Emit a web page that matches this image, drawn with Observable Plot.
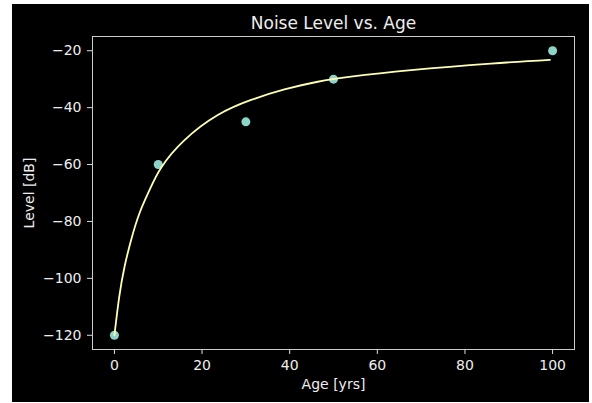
<!DOCTYPE html>
<html>
<head>
<meta charset="utf-8">
<script src="https://cdn.jsdelivr.net/npm/d3@7"></script>
<script src="https://cdn.jsdelivr.net/npm/@observablehq/plot@0.6"></script>
<style>
  html, body { margin: 0; padding: 0; background: #ffffff; }
  #wrap { position: absolute; left: 12px; top: 4px; width: 577px; height: 398px; background: #000; }
  #wrap svg { position: absolute; left: 0; top: 0; }
</style>
</head>
<body>
<div id="wrap"></div>
<script>
// Measured data points
const ages = [0, 10, 30, 50, 100];
const levels = [-120, -60, -45, -30, -20];

// Fitted curve
const fitAges = [0, 1.1, 2.3, 3.8, 5.7, 8, 10.7, 16, 23.6, 31.2, 38.8, 46.4, 54, 67.7, 85.9, 99.4];
const fitLevels = [-120, -106.5, -96, -86.6, -77.2, -69, -61, -51.4, -42.6, -37.3, -33.6, -30.9, -29.1, -26.8, -24.5, -23.2];

const xTicks = [0, 20, 40, 60, 80, 100];
const yTicks = [-120, -100, -80, -60, -40, -20];

const titleText = "Noise Level vs. Age";
const xLabel = "Age [yrs]";
const yLabel = "Level [dB]";

const points = ages.map((a, i) => ({age: a, level: levels[i]}));
const fit = fitAges.map((a, i) => ({age: a, level: fitLevels[i]}));

const chart = Plot.plot({
  width: 577,
  height: 398,
  marginLeft: 80,
  marginTop: 32,
  marginRight: 15,
  marginBottom: 53,
  style: {background: "#000", color: "#fff", fontFamily: "DejaVu Sans", fontSize: "14px"},
  x: {domain: [-5, 105]},
  y: {domain: [-125, -15]},
  marks: [
    Plot.dot(points, {x: "age", y: "level", r: 4.5, fill: "#8dd3c7", stroke: "none"}),
    Plot.line(fit, {x: "age", y: "level", stroke: "#feffb3", strokeWidth: 1.8, curve: "natural"}),
    Plot.frame({stroke: "#cccccc", strokeWidth: 1}),
    Plot.axisX({ticks: xTicks, tickSize: 5, tickPadding: 6, stroke: "#dddddd", fill: "#eeeeee",
      label: xLabel, labelAnchor: "center", labelArrow: "none", labelOffset: 39.5}),
    Plot.axisY({ticks: yTicks, tickSize: 5, tickPadding: 6, stroke: "#dddddd", fill: "#eeeeee",
      label: yLabel, labelAnchor: "center", labelArrow: "none", labelOffset: 68}),
    Plot.text([titleText], {frameAnchor: "top", dy: -7.5, lineAnchor: "bottom", fontSize: 17, fill: "#eeeeee", text: d => d})
  ]
});
document.getElementById("wrap").appendChild(chart);
</script>
</body>
</html>
